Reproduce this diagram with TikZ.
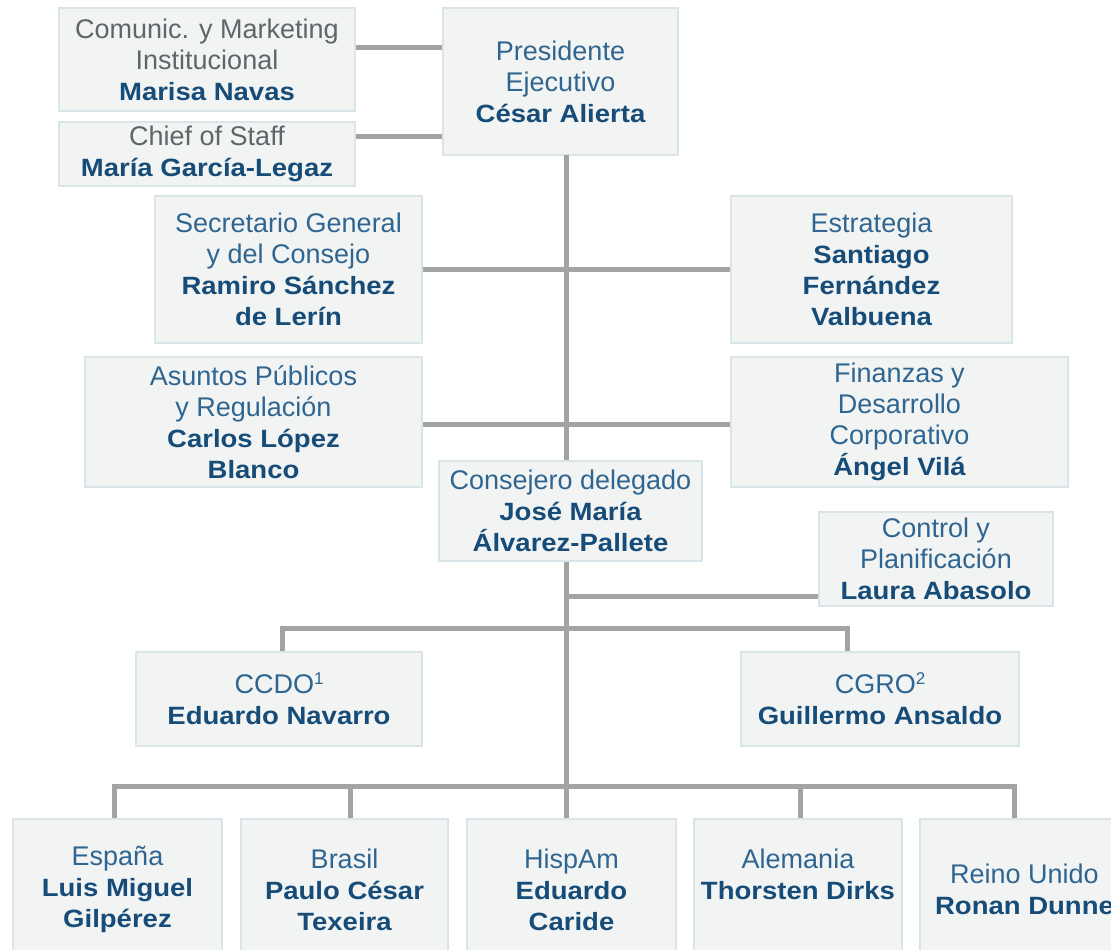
\documentclass[tikz,border=0pt]{standalone}
\usepackage{fontspec}
\setmainfont{Liberation Sans}
\newfontfamily\nmfont[FakeStretch=1.1]{Liberation Sans Bold}
\definecolor{boxfill}{HTML}{F2F4F4}
\definecolor{boxline}{HTML}{D9E5E9}
\definecolor{linecol}{HTML}{A3A3A3}
\definecolor{txtblue}{HTML}{2F6590}
\definecolor{txtgrey}{HTML}{5F6568}
\definecolor{namecol}{HTML}{164C77}
\newcommand{\NM}[1]{{\color{namecol}\nmfont\fontsize{25}{31}\selectfont #1}}
\newcommand{\supnum}[1]{\raisebox{9pt}{\fontsize{17}{17}\selectfont #1}}
\tikzset{
  orgbox/.style={draw=boxline, fill=boxfill, line width=1.5pt, inner sep=0pt,
    align=center, text=txtblue, font=\fontsize{27}{31}\selectfont},
  greybox/.style={orgbox, text=txtgrey},
  link/.style={draw=linecol, line width=5pt, line join=miter}
}
\begin{document}
\begin{tikzpicture}[x=1pt,y=-1pt]
\useasboundingbox (0,0) rectangle (1111,950);
\clip (0,0) rectangle (1111,950);
\fill[white] (0,0) rectangle (1111,950);
% coordinates on the trunk
\coordinate (ttop) at (566.5,155);
\coordinate (tbot) at (566.5,819);
\coordinate (ctrlj) at (566.5,596);
\coordinate (ba) at (282,628.5);
\coordinate (bb) at (847,628.5);
\coordinate (d1) at (114.5,786.5);
\coordinate (d2) at (350.5,786.5);
\coordinate (d3) at (566.5,786.5);
\coordinate (d4) at (800.5,786.5);
\coordinate (d5) at (1014,786.5);
\coordinate (ycom) at (0,47.7);
\coordinate (ychief) at (0,136.7);

% boxes
\node[orgbox, minimum width=235pt, minimum height=147pt] (pres) at (560.5,81.5)
  {Presidente\\Ejecutivo\\\NM{César Alierta}};
\node[greybox, minimum width=296pt, minimum height=103pt] (com) at (207,59.5)
  {Comunic. y Marketing\\Institucional\\\NM{Marisa Navas}};
\node[greybox, minimum width=296pt, minimum height=64pt] (chief) at (207,154)
  {Chief of Staff\\\NM{María García-Legaz}};
\node[orgbox, minimum width=267pt, minimum height=147pt] (sec) at (288.5,269.5)
  {Secretario General\\y del Consejo\\\NM{Ramiro Sánchez}\\\NM{de Lerín}};
\node[orgbox, minimum width=281pt, minimum height=147pt] (est) at (871.5,269.5)
  {Estrategia\\\NM{Santiago}\\\NM{Fernández}\\\NM{Valbuena}};
\node[orgbox, minimum width=337pt, minimum height=130pt] (asu) at (253.5,422)
  {Asuntos Públicos\\y Regulación\\\NM{Carlos López}\\\NM{Blanco}};
\node[orgbox, minimum width=337pt, minimum height=130pt] (fin) at (899.5,422)
  {Finanzas y\\Desarrollo\\Corporativo\\\NM{Ángel Vilá}};

% connectors (drawn before the boxes that overlap the trunk)
\draw[link] (com.east |- ycom) -- (pres.west |- ycom);
\draw[link] (chief.east |- ychief) -- (pres.west |- ychief);
\draw[link] (sec.east) -- (est.west);
\draw[link] ([yshift=-2pt]asu.east) -- ([yshift=-2pt]fin.west);
\draw[link] (ttop) -- (tbot);

\node[orgbox, minimum width=263pt, minimum height=100pt] (cons) at (570.5,511)
  {Consejero delegado\\\NM{José María}\\\NM{Álvarez-Pallete}};
\node[orgbox, minimum width=234pt, minimum height=94pt] (ctrl) at (936,559)
  {Control y\\Planificación\\\NM{Laura Abasolo}};
\node[orgbox, minimum width=286pt, minimum height=94pt] (ccdo) at (279,699)
  {CCDO\supnum{1}\\\NM{Eduardo Navarro}};
\node[orgbox, minimum width=278pt, minimum height=94pt] (cgro) at (880,699)
  {CGRO\supnum{2}\\\NM{Guillermo Ansaldo}};

\node[orgbox, minimum width=209pt, minimum height=141pt] (es) at (117.5,889.5)
  {España\\\NM{Luis Miguel}\\\NM{Gilpérez}};
\node[orgbox, minimum width=207pt, minimum height=141pt] (br) at (344.5,889.5)
  {Brasil\\\NM{Paulo César}\\\NM{Texeira}};
\node[orgbox, minimum width=209pt, minimum height=141pt] (hi) at (571.5,889.5)
  {HispAm\\\NM{Eduardo}\\\NM{Caride}};
\node[orgbox, minimum width=208pt, minimum height=141pt, text depth=0pt] (al) at (798,889.5)
  {Alemania\\\NM{Thorsten Dirks}\\\phantom{X}};
\node[orgbox, minimum width=209pt, minimum height=141pt] (ru) at (1024.5,889.5)
  {Reino Unido\\\NM{Ronan Dunne}};

\draw[link] (ctrlj) -- (ctrl.west |- ctrlj);
\draw[link] (ba |- ccdo.north) -- (ba) -- (bb) -- (bb |- cgro.north);
\draw[link] (d1 |- es.north) -- (d1) -- (d5) -- (d5 |- ru.north);
\draw[link] (d2) -- (d2 |- br.north);
\draw[link] (d4) -- (d4 |- al.north);
\end{tikzpicture}
\end{document}
